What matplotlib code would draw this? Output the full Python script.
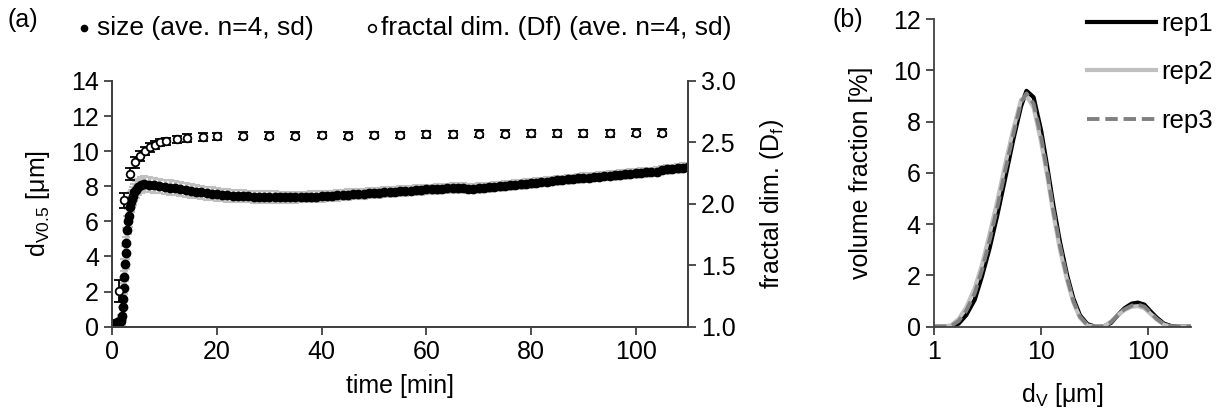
import matplotlib
matplotlib.use("Agg")
import matplotlib.pyplot as plt
from matplotlib.ticker import FixedLocator, FormatStrFormatter, NullLocator, NullFormatter
from matplotlib.lines import Line2D

plt.rcParams['font.family'] = ['Liberation Sans', 'DejaVu Sans']
plt.rcParams['mathtext.fontset'] = 'custom'
plt.rcParams['mathtext.rm'] = 'Liberation Sans'
plt.rcParams['mathtext.it'] = 'Liberation Sans'

# ---- panel (a): floc size and fractal dimension vs time ----
size_t = [0, 0.25, 0.5, 0.75, 1.0, 1.25, 1.5, 1.75, 1.9, 2.0, 2.1, 2.2, 2.3, 2.4,
          2.6, 2.7, 2.85, 3.0, 3.15, 3.3, 3.5, 3.7, 3.9, 4.2, 4.6, 5.0, 5.5, 6.0,
          7, 8, 9, 10, 11, 12, 13, 14, 15, 16, 17, 18, 19, 20,
          21, 22, 23, 24, 25, 26, 27, 28, 29, 30, 31, 32, 33, 34, 35, 36, 37, 38, 39, 40,
          41, 42, 43, 44, 45, 46, 47, 48, 49, 50, 51, 52, 53, 54, 55, 56, 57, 58, 59, 60,
          61, 62, 63, 64, 65, 66, 67, 68, 69, 70, 71, 72, 73, 74, 75, 76, 77, 78, 79, 80,
          81, 82, 83, 84, 85, 86, 87, 88, 89, 90, 91, 92, 93, 94, 95, 96, 97, 98, 99, 100,
          101, 102, 103, 104, 105, 106, 107, 108, 109, 110]
size_d = [0.15, 0.18, 0.2, 0.22, 0.25, 0.27, 0.3, 0.35, 0.6, 1.1, 1.6, 2.2, 2.85, 3.6,
          4.2, 4.75, 5.5, 6.0, 6.3, 6.8, 7.1, 7.3, 7.45, 7.65, 7.8, 7.95, 8.08, 8.12,
          8.1, 8.06, 8.02, 7.97, 7.93, 7.88, 7.83, 7.78, 7.73, 7.69, 7.65, 7.61, 7.57, 7.54,
          7.51, 7.48, 7.46, 7.44, 7.43, 7.42, 7.41, 7.40, 7.40, 7.39, 7.39, 7.38, 7.38, 7.38, 7.38, 7.39, 7.39, 7.40, 7.41, 7.42,
          7.44, 7.46, 7.48, 7.50, 7.52, 7.54, 7.56, 7.58, 7.60, 7.62, 7.64, 7.66, 7.68, 7.70, 7.72, 7.74, 7.76, 7.78, 7.80, 7.82,
          7.83, 7.85, 7.86, 7.88, 7.89, 7.91, 7.93, 7.86, 7.87, 7.90, 7.92, 7.95, 7.98, 8.00, 8.03, 8.06, 8.09, 8.12, 8.15, 8.18,
          8.21, 8.24, 8.27, 8.30, 8.33, 8.36, 8.39, 8.42, 8.45, 8.48, 8.50, 8.53, 8.55, 8.58, 8.60, 8.63, 8.66, 8.69, 8.72, 8.75,
          8.77, 8.79, 8.81, 8.83, 8.93, 8.96, 8.99, 9.02, 9.05, 9.10]
size_sd = [0.15, 0.15, 0.15, 0.15, 0.15, 0.15, 0.2, 0.3, 0.5, 0.7, 0.9, 1.0, 1.0, 1.0,
           0.9, 0.9, 0.8, 0.7, 0.6, 0.6, 0.55, 0.5, 0.5, 0.5, 0.48, 0.46, 0.45, 0.45,
           0.43, 0.42, 0.42, 0.41, 0.40, 0.40, 0.40, 0.39, 0.39, 0.38, 0.38, 0.37, 0.37, 0.36,
           0.36, 0.35, 0.35, 0.35, 0.34, 0.34, 0.34, 0.33, 0.33, 0.33, 0.32, 0.32, 0.32, 0.32, 0.31, 0.31, 0.31, 0.31, 0.30, 0.30,
           0.30, 0.30, 0.30, 0.30, 0.30, 0.29, 0.29, 0.29, 0.29, 0.29, 0.29, 0.28, 0.28, 0.28, 0.28, 0.28, 0.28, 0.28, 0.28, 0.28,
           0.27, 0.27, 0.27, 0.27, 0.27, 0.27, 0.27, 0.27, 0.27, 0.27, 0.27, 0.26, 0.26, 0.26, 0.26, 0.26, 0.26, 0.26, 0.26, 0.26,
           0.25, 0.25, 0.25, 0.25, 0.25, 0.25, 0.25, 0.25, 0.25, 0.25, 0.25, 0.25, 0.25, 0.25, 0.25, 0.25, 0.25, 0.25, 0.25, 0.25,
           0.25, 0.25, 0.25, 0.25, 0.25, 0.25, 0.25, 0.25, 0.25, 0.25]

df_t = [1.3, 2.3, 3.4, 4.3, 5.3, 6.25, 7.2, 8.2, 9.1, 10.3, 12.3, 14.3, 17.4,
        20, 25, 30, 35, 40, 45, 50, 55, 60, 65, 70, 75, 80, 85, 90, 95, 100, 105]
df_val = [1.29, 2.03, 2.24, 2.34, 2.39, 2.43, 2.46, 2.48, 2.50, 2.51, 2.525, 2.535, 2.545,
          2.55, 2.555, 2.555, 2.555, 2.56, 2.555, 2.56, 2.56, 2.565, 2.565, 2.57, 2.57,
          2.575, 2.575, 2.575, 2.575, 2.58, 2.58]
df_sd = [0.09, 0.06, 0.05, 0.045, 0.04, 0.035, 0.035, 0.03, 0.03, 0.03, 0.03, 0.03, 0.03,
         0.03, 0.03, 0.028, 0.028, 0.028, 0.028, 0.028, 0.028, 0.028, 0.028, 0.028, 0.028,
         0.028, 0.028, 0.028, 0.028, 0.028, 0.028]

# ---- panel (b): volume size distribution ----
dv = [1.0, 1.2, 1.45, 1.7, 2.0, 2.4, 2.8, 3.3, 3.9, 4.6, 5.5, 6.5, 7.3, 8.5, 10,
      11.5, 13, 15, 17.5, 20, 23, 27, 32, 38, 45, 52, 60, 70, 80, 92, 105, 120,
      140, 165, 190, 220, 250]
rep1 = [0, 0, 0, 0.12, 0.45, 1.05, 1.95, 3.05, 4.35, 5.75, 7.3, 8.6, 9.2, 8.95, 7.65,
        6.15, 4.75, 3.3, 2.0, 1.1, 0.45, 0.1, 0, 0, 0.15, 0.45, 0.72, 0.9, 0.94, 0.86,
        0.6, 0.35, 0.12, 0.02, 0, 0, 0]
rep2 = [0, 0, 0.05, 0.3, 0.75, 1.5, 2.4, 3.6, 4.9, 6.3, 7.7, 8.85, 9.0, 8.55, 7.2,
        5.8, 4.4, 3.0, 1.8, 0.95, 0.35, 0.05, 0, 0, 0.2, 0.45, 0.65, 0.78, 0.8, 0.72,
        0.5, 0.28, 0.08, 0, 0, 0, 0]
rep3 = [0, 0, 0.03, 0.22, 0.62, 1.3, 2.2, 3.35, 4.65, 6.05, 7.5, 8.75, 9.1, 8.7, 7.4,
        5.95, 4.55, 3.15, 1.9, 1.0, 0.4, 0.07, 0, 0, 0.18, 0.45, 0.68, 0.82, 0.86, 0.78,
        0.55, 0.3, 0.1, 0.01, 0, 0, 0]
rep_labels = ['rep1', 'rep2', 'rep3']

FS = 18
SPINE = '#404040'

fig = plt.figure(figsize=(12.26, 4.16), dpi=100)
ax = fig.add_axes([0.0916, 0.2147, 0.4696, 0.5906])
ax2 = ax.twinx()

ax.errorbar(size_t, size_d, yerr=size_sd, fmt='none', ecolor='#c0c0c0',
            elinewidth=2.5, capsize=3, capthick=1.5, zorder=1)
ax.plot(size_t, size_d, 'o', color='black', ms=6, zorder=2)
ax.set_xlim(0, 110)
ax.set_ylim(0, 14)
ax.set_xticks([0, 20, 40, 60, 80, 100])
ax.set_yticks(range(0, 15, 2))
ax.set_xlabel('time [min]', fontsize=FS, labelpad=7)
ax.set_ylabel(r'd$_{\mathrm{V0.5}}$ [μm]', fontsize=FS, labelpad=14)

ax2.errorbar(df_t, df_val, yerr=df_sd, fmt='o', color='black', mfc='white',
             mec='black', ms=5.5, mew=1.3, elinewidth=1.3, capsize=3.5, capthick=1.3)
ax2.set_ylim(1.0, 3.0)
ax2.set_yticks([1.0, 1.5, 2.0, 2.5, 3.0])
ax2.yaxis.set_major_formatter(FormatStrFormatter('%.1f'))
ax2.set_ylabel(r'fractal dim. (D$_{\mathrm{f}}$)', fontsize=FS, labelpad=16)

for a in (ax, ax2):
    a.spines['top'].set_visible(False)
    for s in a.spines.values():
        s.set_color(SPINE)
        s.set_linewidth(1.3)
    a.tick_params(labelsize=FS, direction='out', length=6, width=1.3, color=SPINE)

fig.text(0.006, 1 - 20 / 416, '(a)', fontsize=FS, va='center')
ytop = 1 - 28 / 416
fig.add_artist(Line2D([84 / 1226], [ytop], marker='o', color='black', ms=4.5,
                      transform=fig.transFigure))
fig.text(97 / 1226, ytop, 'size (ave. n=4, sd)', fontsize=19, va='center')
fig.add_artist(Line2D([372 / 1226], [ytop], marker='o', mfc='white', mec='black',
                      ms=5.5, mew=1.2, transform=fig.transFigure))
fig.text(381 / 1226, ytop, 'fractal dim. (Df) (ave. n=4, sd)', fontsize=19, va='center')

# ---- panel (b) ----
bx = fig.add_axes([0.7618, 0.2147, 0.2096, 0.7396])
bx.plot(dv, rep1, color='black', lw=3, label=rep_labels[0])
bx.plot(dv, rep2, color='#c0c0c0', lw=3, label=rep_labels[1])
bx.plot(dv, rep3, color='#808080', lw=2.8, ls=(0, (3.2, 1.5)), label=rep_labels[2])
bx.set_xscale('log')
bx.set_xlim(1, 250)
bx.set_ylim(0, 12)
bx.xaxis.set_major_locator(FixedLocator([1, 10, 100]))
bx.xaxis.set_major_formatter(FormatStrFormatter('%g'))
bx.xaxis.set_minor_locator(NullLocator())
bx.xaxis.set_minor_formatter(NullFormatter())
bx.set_yticks(range(0, 13, 2))
bx.set_xlabel(r'd$_{\mathrm{V}}$ [μm]', fontsize=FS, labelpad=12)
bx.set_ylabel('volume fraction [%]', fontsize=FS, labelpad=14)
bx.spines['top'].set_visible(False)
bx.spines['right'].set_visible(False)
for s in bx.spines.values():
    s.set_color(SPINE)
    s.set_linewidth(1.3)
bx.tick_params(labelsize=FS, direction='out', length=6, width=1.3, color=SPINE)
bx.legend(loc='upper left', bbox_to_anchor=(1087 / 1226, 1 - 12 / 416),
          bbox_transform=fig.transFigure, frameon=False, fontsize=18.5,
          handlelength=2.7, handletextpad=0.2, labelspacing=0.95,
          borderpad=0, borderaxespad=0)
fig.text(832 / 1226, 1 - 20 / 416, '(b)', fontsize=FS, va='center')

fig.savefig('out.png', dpi=100)
